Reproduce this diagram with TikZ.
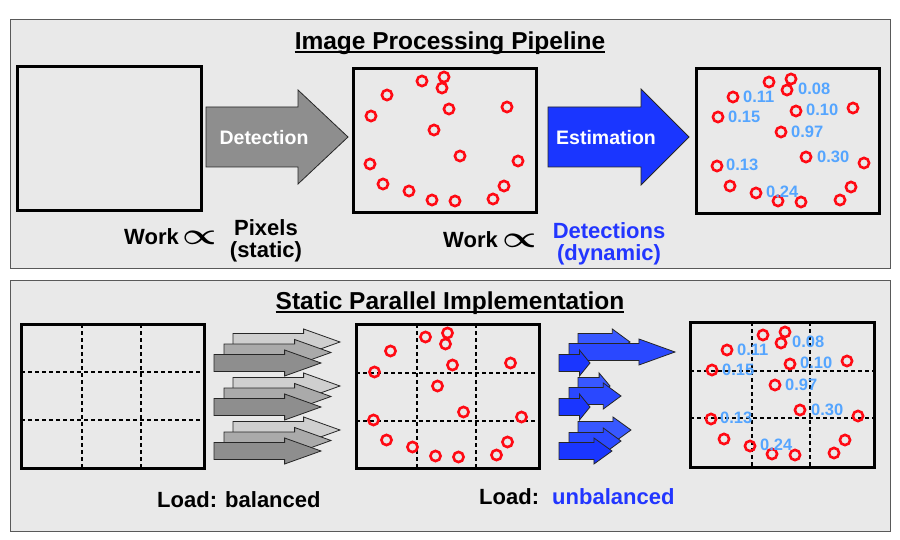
\documentclass[tikz,border=0pt]{standalone}
\usepackage{fontspec}
\setmainfont{Liberation Sans}
\usepackage{graphicx}
\usepackage{amsmath}
\definecolor{panelgray}{HTML}{E9E9E9}
\definecolor{lblue}{HTML}{55A5FF}
\definecolor{dblue}{HTML}{2236FF}
\definecolor{bluea}{HTML}{1A36FF}
\definecolor{blueb}{HTML}{2A48FF}
\definecolor{bluec}{HTML}{3858FF}
\definecolor{graya}{HTML}{8E8E8E}
\definecolor{grayb}{HTML}{AAAAAA}
\definecolor{grayc}{HTML}{CFCFCF}
\definecolor{detred}{HTML}{FF0A14}
% #1 left x, #2 centre y, #3 length, #4 shaft half, #5 head half, #6 head length, #7 fill
\newcommand{\blkarrow}[7]{%
  \filldraw[arrowline, fill=#7] ({#1},{#2-#4}) -- ({#1+#3-#6},{#2-#4}) -- ({#1+#3-#6},{#2-#5})
    -- ({#1+#3},{#2}) -- ({#1+#3-#6},{#2+#5}) -- ({#1+#3-#6},{#2+#4}) -- ({#1},{#2+#4}) -- cycle;}
\newcommand{\smarrow}[4]{\blkarrow{#1}{#2}{#3}{8.5}{13}{#3*0.34}{#4}}
\newcommand{\propsym}{\scalebox{1.85}[1.45]{$\boldsymbol{\propto}$}}
\begin{document}
\begin{tikzpicture}[x=1pt,y=-1pt,
  panel/.style={draw=black!65, line width=1pt, fill=panelgray},
  frame/.style={draw=black, line width=3pt},
  gridline/.style={draw=black, dash pattern=on 4pt off 3pt, line width=1.1pt},
  det/.style={draw=detred, line width=2.6pt},
  arrowline/.style={draw=black!85, line width=0.8pt},
  title/.style={font=\bfseries\fontsize{24.5}{28}\selectfont, inner sep=0pt, anchor=base},
  lbl/.style={font=\bfseries\fontsize{22}{22}\selectfont, inner sep=0pt},
  val/.style={text=lblue, font=\bfseries\fontsize{16.5}{18}\selectfont, anchor=west, inner sep=0pt},
  inarrow/.style={text=white, font=\bfseries\fontsize{19.5}{22}\selectfont, inner sep=0pt}
]
\useasboundingbox (0,0) rectangle (900,540);
\fill[white] (0,0) rectangle (900,540);

% ---------- panels ----------
\draw[panel] (10,20) rectangle (890,269);
\draw[panel] (10,281) rectangle (890,531);

\node[title] (t1) at (450,49.5) {Image Processing Pipeline};
\draw[line width=1.6pt] ([yshift=-2.5pt]t1.base west) -- ([yshift=-2.5pt]t1.base east);
\node[title] (t2) at (450,309.5) {Static Parallel Implementation};
\draw[line width=1.6pt] ([yshift=-2.5pt]t2.base west) -- ([yshift=-2.5pt]t2.base east);

% ---------- top panel ----------
\draw[frame] (17,67) rectangle (201,211);

\blkarrow{206}{137}{142}{30}{47}{50}{graya}
\node[inarrow] (detlbl) at (264,138) {Detection};

\draw[frame] (353,69) rectangle (536,213);
\foreach \p in {(422,81),(444,77),(442,88),(387,95),(371,116),(449,109),(507,107),(434,130),
  (460,156),(518,161),(370,164),(383,184),(409,191),(432,200),(455,201),(493,199),(504,186)}
  \draw[det] \p circle[radius=5.1];

\blkarrow{548}{137}{141}{30}{48}{48}{bluea}
\node[inarrow] (estlbl) at (606,138) {Estimation};

\draw[frame] (696,69) rectangle (879,214);
\newcommand{\estimates}{%
\foreach \p in {(769,82),(791,79),(787,90),(733,97),(718,117),(796,111),(853,108),(781,132),
  (806,157),(864,163),(717,166),(730,186),(756,193),(778,201),(801,202),(840,200),(851,187)}
  \draw[det] \p circle[radius=5.1];
\node[val] (v11) at (743,97) {0.11};
\node[val] (v08) at (798,89) {0.08};
\node[val] (v15) at (728,117) {0.15};
\node[val] (v10) at (806,110) {0.10};
\node[val] (v97) at (791,132) {0.97};
\node[val] (v30) at (817,157) {0.30};
\node[val] (v13) at (726,165) {0.13};
\node[val] (v24) at (766,192) {0.24};}
\estimates

\node[lbl, anchor=base west] (work1) at (124,245) {Work};
\node[lbl] (prop1) at (199.5,237.5) {\propsym};
\node[lbl, anchor=base] (pix) at (266,236) {Pixels};
\node[lbl, anchor=base] (stat) at (266,258) {(static)};

\node[lbl, anchor=base west] (work2) at (443,248) {Work};
\node[lbl] (prop2) at (519.5,240.5) {\propsym};
\node[lbl, anchor=base, text=dblue] (dets) at (609,239) {Detections};
\node[lbl, anchor=base, text=dblue] (dyn) at (609,261) {(dynamic)};

% ---------- bottom panel ----------
% image grid
\draw[gridline] (82,324) -- (82,468) (141,324) -- (141,468) (21,372) -- (204,372) (21,420) -- (204,420);
\draw[frame] (21,324) rectangle (204,468);

% gray static arrows
\foreach \cy in {363,407,451}{
  \smarrow{233}{\cy-21}{107}{grayc}
  \smarrow{224}{\cy-10.5}{107}{grayb}
  \smarrow{214}{\cy}{107}{graya}
}

% detections with grid
\draw[gridline] (417,324) -- (417,468) (476,324) -- (476,468) (356,373) -- (539,373) (356,421) -- (539,421);
\begin{scope}[shift={(3.5,256)}]
\foreach \p in {(422,81),(444,77),(442,88),(387,95),(371,116),(449,109),(507,107),(434,130),
  (460,156),(518,161),(370,164),(383,184),(409,191),(432,200),(455,201),(493,199),(504,186)}
  \draw[det] \p circle[radius=5.1];
\end{scope}
\draw[frame] (356,324) rectangle (539,468);

% blue dynamic arrows
\smarrow{578}{342}{52}{bluec}
\smarrow{569}{352}{106}{blueb}
\smarrow{559}{363}{31}{bluea}
\smarrow{578}{386}{32}{bluec}
\smarrow{569}{396}{52}{blueb}
\smarrow{559}{407}{31}{bluea}
\smarrow{578}{430}{53}{bluec}
\smarrow{569}{441}{52}{blueb}
\smarrow{559}{451}{53}{bluea}

% estimates with grid
\draw[gridline] (752,322) -- (752,467) (810,322) -- (810,467) (690,371) -- (874,371) (690,418) -- (874,418);
\begin{scope}[shift={(-6,253)}]
\estimates
\end{scope}
\draw[frame] (690,322) rectangle (874,467);

\node[lbl, anchor=base west] (load1) at (157,507) {Load: balanced};
\node[lbl, anchor=base west] (load2) at (479,504) {Load:};
\node[lbl, anchor=base west, text=dblue] (unbal) at (552,504) {unbalanced};
\end{tikzpicture}
\end{document}
